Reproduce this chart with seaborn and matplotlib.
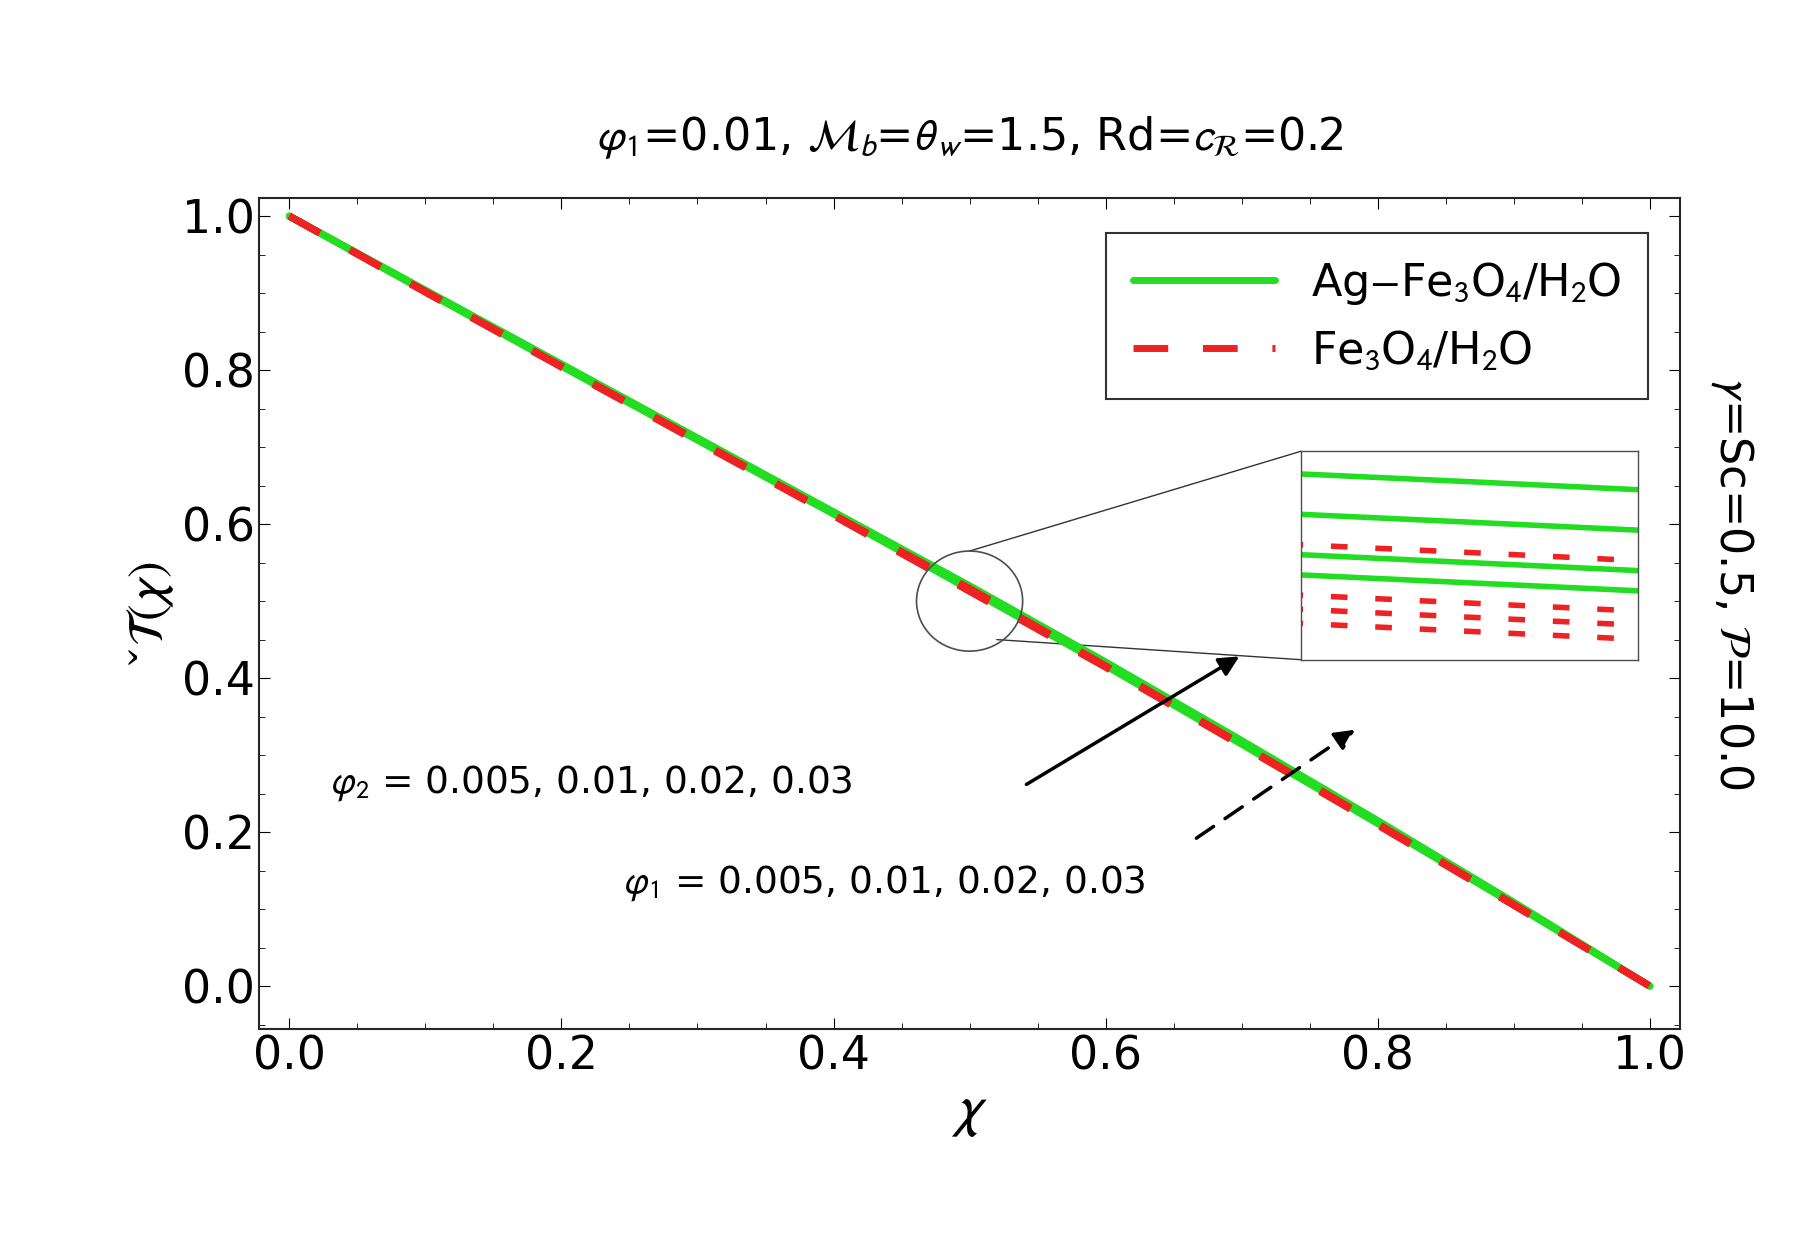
import numpy as np
import matplotlib
matplotlib.use("Agg")
import matplotlib.pyplot as plt
import seaborn as sns
import pandas as pd
from matplotlib.patches import Ellipse, ConnectionPatch
from matplotlib.ticker import AutoMinorLocator

sns.set_style("ticks")
plt.rcParams['font.family'] = ['DejaVu Sans']
plt.rcParams['mathtext.fontset'] = 'stixsans'
plt.rcParams['text.color'] = 'black'
plt.rcParams['xtick.color'] = 'black'
plt.rcParams['ytick.color'] = 'black'
plt.rcParams['axes.labelcolor'] = 'black'

x_vals = [0.0, 0.1, 0.2, 0.3, 0.4, 0.5, 0.6, 0.7, 0.8, 0.9, 1.0]
# Ag-Fe3O4/H2O, phi2 = 0.005, 0.01, 0.02, 0.03
green = [
    [1.0, 0.904, 0.808, 0.712, 0.616, 0.520, 0.421, 0.319, 0.215, 0.109, 0.0],
    [1.0, 0.903, 0.807, 0.711, 0.615, 0.518, 0.419, 0.317, 0.213, 0.108, 0.0],
    [1.0, 0.903, 0.806, 0.710, 0.614, 0.516, 0.417, 0.315, 0.212, 0.107, 0.0],
    [1.0, 0.902, 0.805, 0.709, 0.613, 0.515, 0.416, 0.314, 0.211, 0.106, 0.0],
]
# Fe3O4/H2O, phi1 = 0.005, 0.01, 0.02, 0.03
red = [
    [1.0, 0.902, 0.805, 0.709, 0.612, 0.5165, 0.416, 0.314, 0.211, 0.106, 0.0],
    [1.0, 0.902, 0.805, 0.708, 0.612, 0.5140, 0.415, 0.313, 0.210, 0.106, 0.0],
    [1.0, 0.902, 0.804, 0.708, 0.611, 0.5133, 0.415, 0.313, 0.210, 0.105, 0.0],
    [1.0, 0.901, 0.804, 0.707, 0.611, 0.5126, 0.414, 0.312, 0.209, 0.105, 0.0],
]

fig = plt.figure(figsize=(18.14, 12.4), dpi=100)
ax = fig.add_axes([0.143, 0.17, 0.783, 0.67])

def draw(a, lw, dash):
    for i, g in enumerate(green):
        sns.lineplot(x=x_vals, y=g, ax=a, color='#22dd22', lw=lw,
                     label='Ag$-$Fe$_3$O$_4$/H$_2$O' if i == 0 else None, legend=False)
    for i, r in enumerate(red):
        sns.lineplot(x=x_vals, y=r, ax=a, color='#ee2222', lw=lw, dashes=dash,
                     label='Fe$_3$O$_4$/H$_2$O' if i == 0 else None, legend=False)

draw(ax, 5, (5, 5))
ax.set_xlim(-0.022, 1.022)
ax.set_ylim(-0.056, 1.023)
ax.set_xticks([0, 0.2, 0.4, 0.6, 0.8, 1.0])
ax.set_yticks([0, 0.2, 0.4, 0.6, 0.8, 1.0])
ax.set_xticklabels(['0.0', '0.2', '0.4', '0.6', '0.8', '1.0'])
ax.set_yticklabels(['0.0', '0.2', '0.4', '0.6', '0.8', '1.0'])
ax.xaxis.set_minor_locator(AutoMinorLocator(4))
ax.yaxis.set_minor_locator(AutoMinorLocator(4))
ax.tick_params(which='both', direction='in', top=True, right=True, labelsize=33)
ax.tick_params(which='major', length=8)
ax.tick_params(which='minor', length=4)
for s in ax.spines.values():
    s.set_linewidth(1.5)
ax.set_xlabel(r'$\chi$', fontsize=40)
ax.set_ylabel(r'$\check{\mathcal{T}}(\chi)$', fontsize=36)
ax.set_title(r'$\varphi_1$=0.01, $\mathcal{M}_b$=$\theta_w$=1.5, Rd=$c_\mathcal{R}$=0.2',
             fontsize=32, pad=35)
fig.text(0.955, 0.53, r'$\gamma$=Sc=0.5, $\mathcal{P}$=10.0', rotation=-90,
         fontsize=32, ha='center', va='center')

h, l = ax.get_legend_handles_labels()
leg = ax.legend(h, l, loc='upper right', fontsize=32, frameon=True, fancybox=False,
                edgecolor='black', handlelength=3.2, borderpad=0.6,
                bbox_to_anchor=(0.993, 0.985))
leg.get_frame().set_linewidth(1.5)

# zoom circle and inset
ell = Ellipse((0.5, 0.5), 0.078, 0.13, fill=False, ec='0.3', lw=1.2, zorder=5)
ax.add_patch(ell)
ins = fig.add_axes([0.717, 0.468, 0.186, 0.168])
draw(ins, 4, (3, 5))
ins.set_xlim(0.4996, 0.5004)
ins.set_ylim(0.5112, 0.5215)
ins.set_xticks([]); ins.set_yticks([])
for s in ins.spines.values():
    s.set_linewidth(1.0); s.set_color('0.3')
for (xa, ya), (xb, yb) in [((0.5, 0.565), (0, 1)), ((0.52, 0.45), (0, 0))]:
    ax.add_artist(ConnectionPatch((xa, ya), (xb, yb), coordsA='data', coordsB='axes fraction',
                                  axesA=ax, axesB=ins, color='0.2', lw=1))

ax.annotate('', xy=(0.7, 0.43), xytext=(0.54, 0.26),
            arrowprops=dict(arrowstyle='-|>', color='black', lw=2.5, mutation_scale=30))
ax.annotate('', xy=(0.785, 0.335), xytext=(0.665, 0.19),
            arrowprops=dict(arrowstyle='-|>', color='black', lw=2.5, ls=(0, (6, 4)), mutation_scale=30))
ax.text(0.03, 0.25, r'$\varphi_2$ = 0.005, 0.01, 0.02, 0.03', fontsize=27)
ax.text(0.245, 0.12, r'$\varphi_1$ = 0.005, 0.01, 0.02, 0.03', fontsize=27)

fig.savefig('out.png', dpi=100)
